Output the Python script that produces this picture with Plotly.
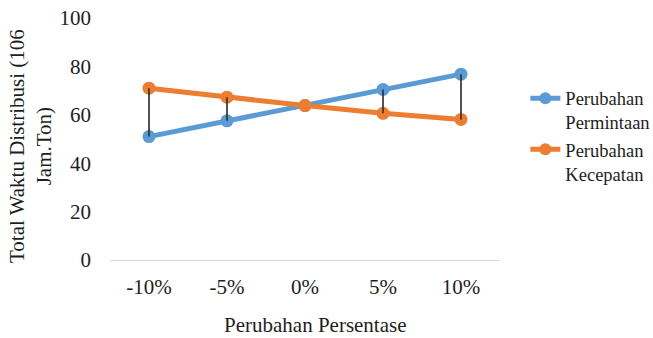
import plotly.graph_objects as go

# Percentage change scenarios
categories = ["-10%", "-5%", "0%", "5%", "10%"]

# Total distribution time (10^6 hour.ton) under each scenario
permintaan = [51.0, 57.5, 63.8, 70.5, 76.8]
kecepatan = [71.0, 67.3, 63.8, 60.6, 58.1]

series_names = ["Perubahan<br>Permintaan", "Perubahan<br>Kecepatan"]
y_ticks = [0, 20, 40, 60, 80, 100]

BLUE = "#5B9BD5"
ORANGE = "#ED7D31"
TEXT = "#1e1e1e"
FONT = "Liberation Serif, Times New Roman, serif"

fig = go.Figure()

fig.add_trace(go.Scatter(
    x=categories, y=permintaan, name=series_names[0],
    mode="lines+markers",
    line=dict(color=BLUE, width=5),
    marker=dict(color=BLUE, size=13),
))
fig.add_trace(go.Scatter(
    x=categories, y=kecepatan, name=series_names[1],
    mode="lines+markers",
    line=dict(color=ORANGE, width=5),
    marker=dict(color=ORANGE, size=13),
))

# High-low connector lines between the two series at each category
hl_x, hl_y = [], []
for c, a, b in zip(categories, kecepatan, permintaan):
    hl_x += [c, c, None]
    hl_y += [a, b, None]
fig.add_trace(go.Scatter(
    x=hl_x, y=hl_y, mode="lines",
    line=dict(color="#333333", width=1.7),
    showlegend=False, hoverinfo="skip",
))

fig.update_layout(
    width=653, height=338,
    margin=dict(l=110, r=153, t=18, b=78, autoexpand=False),
    paper_bgcolor="white", plot_bgcolor="white",
    font=dict(family=FONT, size=21, color=TEXT),
    showlegend=True,
    legend=dict(
        x=1.065, y=0.745, xanchor="left", yanchor="top",
        font=dict(family=FONT, size=18.5, color=TEXT),
        valign="top", tracegroupgap=0, itemsizing="constant",
        bgcolor="rgba(0,0,0,0)",
    ),
)

fig.update_xaxes(
    type="category", range=[-0.5, 4.5],
    showgrid=False, zeroline=False,
    showline=True, linecolor="#d9d9d9", linewidth=1.3,
    ticks="", ticklabelstandoff=8,
    tickfont=dict(family=FONT, size=21, color=TEXT),
)
fig.update_yaxes(
    range=[0, 100], tickvals=y_ticks,
    showgrid=False, zeroline=False, showline=False,
    ticks="", ticklabelstandoff=18,
    tickfont=dict(family=FONT, size=21, color=TEXT),
)

# Axis titles
fig.add_annotation(
    text="Total Waktu Distribusi (106<br>Jam.Ton)",
    xref="paper", yref="paper", x=-0.205, y=0.471,
    xanchor="center", yanchor="middle", textangle=-90,
    showarrow=False, font=dict(family=FONT, size=21, color=TEXT),
)
fig.add_annotation(
    text="Perubahan Persentase",
    xref="paper", yref="paper", x=0.526, y=-0.269,
    xanchor="center", yanchor="middle",
    showarrow=False, font=dict(family=FONT, size=21, color=TEXT),
)

fig.write_html("out.html")
